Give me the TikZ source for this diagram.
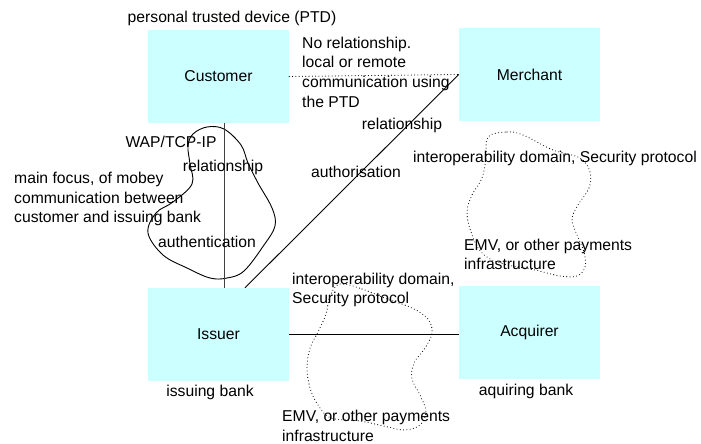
\documentclass[tikz,border=0pt]{standalone}
\usepackage{fontspec}
\setmainfont{Liberation Sans}
\begin{document}
\begin{tikzpicture}[x=1pt,y=-1pt,
  font=\fontsize{15.7}{19.7}\selectfont,
  party/.style={fill=boxcyan, draw=none, minimum width=141pt, minimum height=93pt, inner sep=0pt},
  lbl/.style={inner sep=0pt},
  link/.style={line width=0.9pt},
  dotlink/.style={line width=1.1pt, dash pattern=on 0pt off 3.3pt, line cap=round},
  cloud/.style={line width=0.9pt},
  dotcloud/.style={line width=1.1pt, dash pattern=on 0pt off 3.3pt, line cap=round}]
\definecolor{boxcyan}{RGB}{204,255,255}
\useasboundingbox (0,0) rectangle (701,444);

% the four parties
\node[party] (cust)  at (218.5,76.5)  {Customer};
\node[party] (merch) at (529.5,74.5)  {Merchant};
\node[party] (iss)   at (218.5,334.5) {Issuer};
\node[party] (acq)   at (529.5,332.5) {Acquirer};

% anchor columns for the customer-issuer and issuer-merchant links
\coordinate (vx) at (224,0);
\coordinate (dx) at (245,0);

% solid cloud round the customer-issuer link
\draw[cloud] plot[smooth cycle, tension=0.6] coordinates {
  (207,127) (224,129) (241,145) (248,163) (258,183) (272,208) (275,226)
  (264,245) (244,271) (227,278) (210,278) (187,268) (163,255) (148,233)
  (156,213) (173,202) (192,184) (190,164) (188,146) (193,134)};

% dotted cloud below the merchant
\draw[dotcloud] plot[smooth cycle, tension=0.6] coordinates {
  (488,137) (507,132) (523,135) (553,150) (580,158) (590,172) (589,188)
  (578,205) (572,219) (577,235) (584,252) (585,267) (577,276) (560,276)
  (535,270) (500,263) (481,252) (471,232) (467,212) (472,195) (482,178)
  (486,158)};

% dotted cloud across the issuer-acquirer link
\draw[dotcloud] plot[smooth cycle, tension=0.6] coordinates {
  (340,284) (362,289) (387,299) (412,308) (428,319) (432,333) (425,348)
  (414,363) (412,379) (420,395) (426,412) (420,425) (405,430) (388,427)
  (360,421) (331,418) (318,405) (310,388) (307,368) (310,348) (318,332)
  (326,314) (330,296)};

% links between the parties
\draw[link, black!75] (cust.south -| vx) -- (iss.north -| vx);
\draw[link] (iss.north -| dx) -- (merch.west);
\draw[dotlink] (cust.east) -- (merch.west);
\draw[link] (iss.east) -- (acq.west |- iss.east);

% labels
\node[lbl] at (232,18) {personal trusted device (PTD)};
\node[lbl, anchor=west, align=left] at (302,72) {No relationship.\\local or remote\\communication using\\the PTD};
\node[lbl] at (402,125) {relationship};
\node[lbl] at (356,172) {authorisation};
\node[lbl] at (555,158) {interoperability domain, Security protocol};
\node[lbl] at (171,142) {WAP/TCP-IP};
\node[lbl] at (223,167) {relationship};
\node[lbl, anchor=west, align=left] at (14,199) {main focus, of mobey\\communication between\\customer and issuing bank};
\node[lbl] at (207,242) {authentication};
\node[lbl] at (210,392) {issuing bank};
\node[lbl, anchor=west, align=left] at (292,290) {interoperability domain,\\Security protocol};
\node[lbl, anchor=west, align=left] at (282,426) {EMV, or other payments\\infrastructure};
\node[lbl, anchor=west, align=left] at (464,254.5) {EMV, or other payments\\infrastructure};
\node[lbl] at (526,391) {aquiring bank};
\end{tikzpicture}
\end{document}
